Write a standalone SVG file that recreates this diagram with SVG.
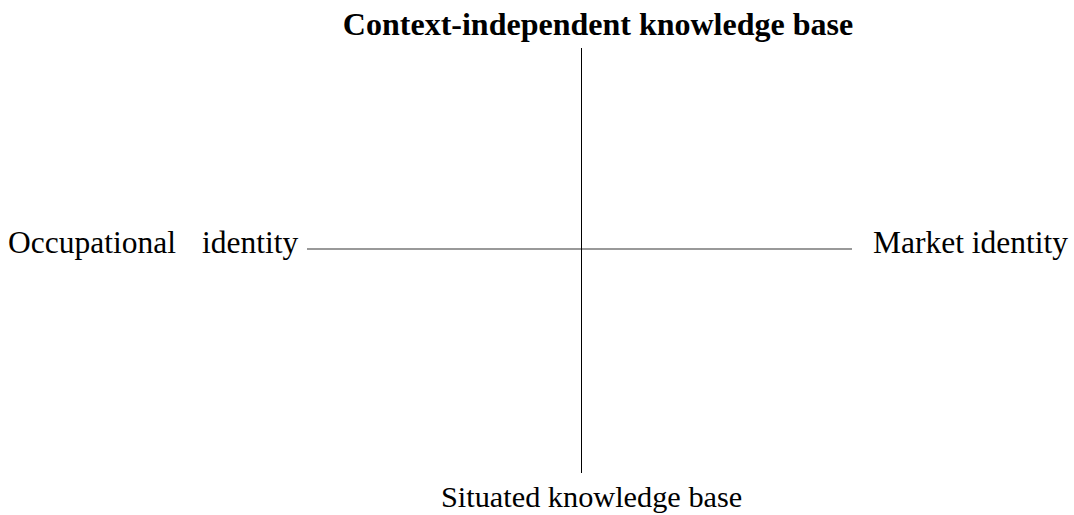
<svg xmlns="http://www.w3.org/2000/svg" width="1074" height="515" viewBox="0 0 1074 515">
<style>
.lbl{font-family:"Liberation Serif","Times New Roman",serif;font-size:31.5px;fill:#000}
.title{font-family:"Liberation Serif","Times New Roman",serif;font-size:32px;font-weight:bold;fill:#000}
.axis{stroke:#000;stroke-width:1;fill:none}
.axis-h{stroke:#777;stroke-width:1.3;fill:none}
</style>
<rect width="1074" height="515" fill="#fff"/>
<g id="connectors">
<line class="axis-h" x1="307" y1="249" x2="852" y2="249"/>
<line class="axis" x1="581.5" y1="48" x2="581.5" y2="473"/>
</g>
<g id="top"><text class="title" x="598" y="35" text-anchor="middle">Context-independent knowledge base</text></g>
<g id="left"><text class="lbl" x="8" y="253">Occupational</text><text class="lbl" x="202" y="253">identity</text></g>
<g id="right"><text class="lbl" x="873" y="253">Market identity</text></g>
<g id="bottom"><text class="lbl" x="441" y="507" style="font-size:30.3px">Situated knowledge base</text></g>
</svg>
